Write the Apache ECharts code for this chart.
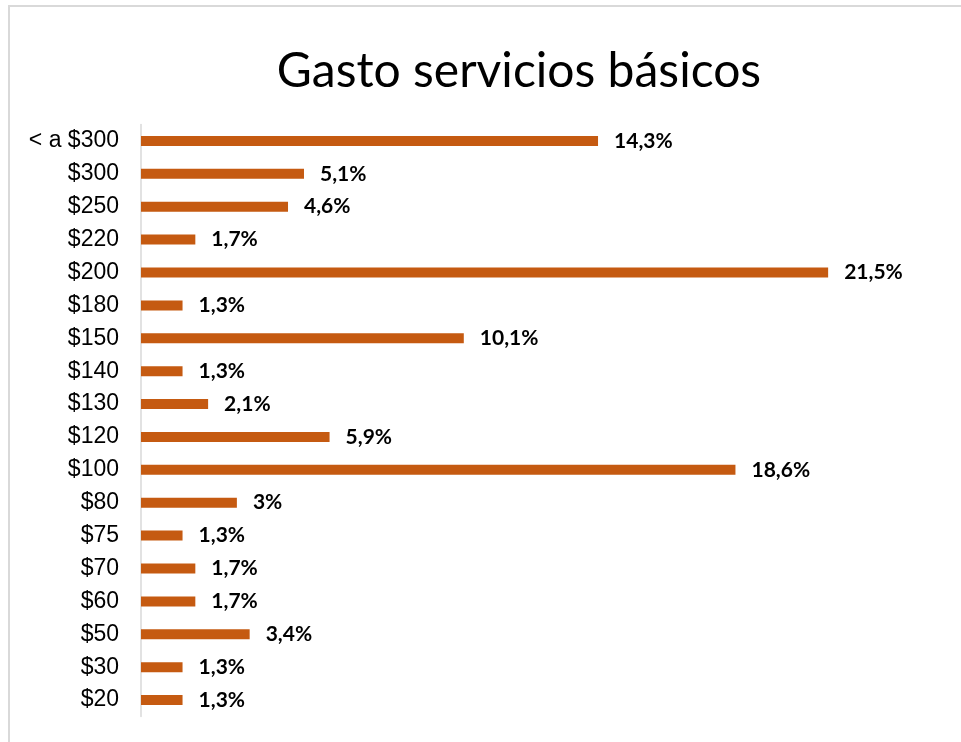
<!DOCTYPE html>
<html>
<head>
<meta charset="utf-8">
<script src="https://cdn.jsdelivr.net/npm/echarts@6/dist/echarts.min.js"></script>
<style>html,body{margin:0;padding:0;background:#fff;}#c{width:961px;height:742px;}</style>
</head>
<body>
<div id="c"></div>
<script>
const titleText = 'Gasto servicios básicos';
const categories = ['< a $300','$300','$250','$220','$200','$180','$150','$140','$130','$120','$100','$80','$75','$70','$60','$50','$30','$20'];
const percentages = [14.3,5.1,4.6,1.7,21.5,1.3,10.1,1.3,2.1,5.9,18.6,3,1.3,1.7,1.7,3.4,1.3,1.3];

const chart = echarts.init(document.getElementById('c'), null, {renderer:'canvas'});
chart.setOption({
  animation: false,
  backgroundColor: '#ffffff',
  graphic: [{
    type: 'rect', silent: true, z: -1,
    shape: {x: 9, y: 6, width: 1200, height: 1200},
    style: {fill: 'none', stroke: '#d9d9d9', lineWidth: 2}
  }],
  title: {
    text: titleText,
    left: 514,
    textAlign: 'center',
    top: 43,
    textStyle: {fontFamily: 'Lato', fontSize: 48, fontWeight: 'normal', color: '#000'}
  },
  grid: {left: 141, top: 124.5, width: 799, height: 592, containLabel: false},
  xAxis: {
    type: 'value', min: 0, max: 25, show: false
  },
  yAxis: {
    type: 'category', data: categories, inverse: true,
    axisLine: {show: true, lineStyle: {color: '#d9d9d9', width: 1.5}},
    axisTick: {show: false},
    axisLabel: {fontFamily: 'Liberation Sans', fontSize: 23, color: '#000', margin: 22, padding: [4, 0, 0, 0]}
  },
  series: [{
    type: 'bar', data: percentages, barWidth: 10,
    itemStyle: {color: '#c55a11'},
    label: {
      show: true, position: 'right', distance: 16,
      fontFamily: 'Lato', fontWeight: 'bold', fontSize: 21, color: '#000',
      padding: [3, 0, 0, 0],
      formatter: p => String(p.value).replace('.', ',') + '%'
    }
  }]
});
</script>
</body>
</html>
